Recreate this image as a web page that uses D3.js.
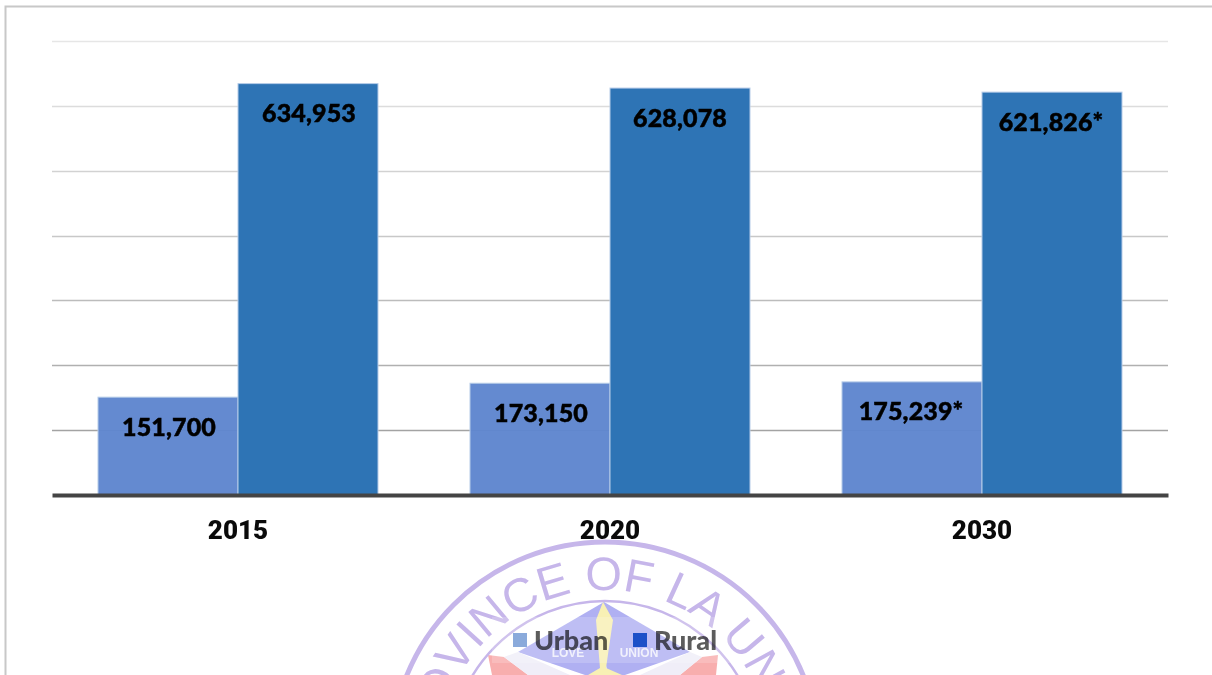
<!DOCTYPE html>
<html><head><meta charset="utf-8">
<script src="https://cdn.jsdelivr.net/npm/d3@7/dist/d3.min.js"></script>
<style>html,body{margin:0;padding:0;background:#fff;overflow:hidden}svg{display:block}</style>
</head><body><svg id="c" width="1212" height="675"></svg>
<script>
const categories = ["2015","2020","2030"];
const seriesNames = ["Urban","Rural"];
const urban = [151700,173150,175239];
const rural = [634953,628078,621826];
const labelsUrban = ["151,700","173,150","175,239*"];
const labelsRural = ["634,953","628,078","621,826*"];
const gridTicks = [100000,200000,300000,400000,500000,600000,700000];
const gridColors = ["#a3a3a3","#b0b0b0","#bcbcbc","#c8c8c8","#d2d2d2","#dcdcdc","#e6e6e6"];
const barColors = {Urban:"#5f86ce",Rural:"#2e74b5"};
const legendColors = {Urban:"#8aaadb",Rural:"#1c50c8"};
const sealWords = "PROVINCE OF LA UNION";

const svg = d3.select("#c");
const x = d3.scaleBand().domain(categories).range([52,1168]).paddingInner(92/372).paddingOuter(46/372);
const xs = d3.scaleBand().domain(seriesNames).range([0,x.bandwidth()]);
const y = d3.scaleLinear().domain([0,700000]).range([495.6,41.4]);
const font = "'Lato','Noto Sans',sans-serif";

svg.append("rect").attr("x",5.5).attr("y",6.5).attr("width",1300).attr("height",800)
  .attr("fill","#fff").attr("stroke","#c8c8c8").attr("stroke-width",2);

// watermark seal, under the labels
const cx=605, cy=756, seal=svg.append("g");
const star=[
 {p:"M604,602 L518,652 L585,675 L600,675 L603,660Z",f:"#b0b0f2"},
 {p:"M604,602 L690,652 L625,675 L608,675 L605,660Z",f:"#b0b0f2"},
 {p:"M603,602 L596,620 L600,668 L588,675 L622,675 L606,668 L613,620Z",f:"#f8f0b4"},
 {p:"M488,655 L504,657 L528,675 L492,675Z",f:"#f8aeae"},
 {p:"M718,655 L702,657 L680,675 L716,675Z",f:"#f8aeae"},
 {p:"M504,657 L518,652 L570,675 L528,675Z",f:"#f0eef8"},
 {p:"M702,657 L690,652 L640,675 L680,675Z",f:"#f0eef8"}
];
seal.selectAll("path.s").data(star).join("path").attr("class","s").attr("d",d=>d.p).attr("fill",d=>d.f);
seal.append("circle").attr("cx",cx).attr("cy",cy).attr("r",214).attr("fill","none").attr("stroke","#c6b6ea").attr("stroke-width",5);
seal.append("circle").attr("cx",cx).attr("cy",cy).attr("r",155).attr("fill","none").attr("stroke","#c6b6ea").attr("stroke-width",2.5);
const rr=166;
svg.append("defs").append("path").attr("id","arc")
  .attr("d",`M${cx-rr},${cy} A${rr},${rr} 0 0 1 ${cx+rr},${cy}`);
seal.append("text").attr("font-family","'Liberation Sans',sans-serif").attr("font-size",47)
  .attr("fill","#c6b6ea")
  .append("textPath").attr("href","#arc").attr("startOffset","50%").attr("text-anchor","middle").text(sealWords);
seal.selectAll("text.w").data([["LOVE",568],["UNION",639]]).join("text").attr("class","w")
  .attr("x",d=>d[1]).attr("y",657).attr("text-anchor","middle").attr("fill","#eeeefc")
  .attr("font-family","'Liberation Sans',sans-serif").attr("font-weight",700).attr("font-size",12).text(d=>d[0]);

// chart
svg.append("g").selectAll("line").data(gridTicks).join("line")
  .attr("x1",52).attr("x2",1168).attr("y1",d=>Math.floor(y(d))+.5).attr("y2",d=>Math.floor(y(d))+.5)
  .attr("stroke",(d,i)=>gridColors[i]).attr("stroke-width",1.3);

const groups = svg.append("g").selectAll("g").data(categories).join("g")
  .attr("transform",d=>`translate(${x(d)},0)`);
const bar = (name,vals,op)=>groups.append("rect")
  .attr("x",xs(name)).attr("width",xs.bandwidth())
  .attr("y",(d,i)=>y(vals[i])).attr("height",(d,i)=>y(0)-y(vals[i]))
  .attr("fill",barColors[name]).attr("fill-opacity",op)
  .attr("stroke","#b5cbe8").attr("stroke-width",1);
bar("Urban",urban,.97); bar("Rural",rural,1);

const lab = (name,texts,offs)=>groups.append("text")
  .attr("x",(d,i)=>xs(name)+xs.bandwidth()/2+offs[i])
  .attr("y",(d,i)=>y(name==="Urban"?urban[i]:rural[i])+38.5)
  .attr("text-anchor","middle").attr("font-family",font).attr("font-weight",900)
  .attr("font-size",25).attr("fill","#000").attr("stroke","#000").attr("stroke-width",.5)
  .attr("letter-spacing",.15).text((d,i)=>texts[i]);
lab("Urban",labelsUrban,[1,1,-1]); lab("Rural",labelsRural,[1,0,-1]);

svg.append("g").attr("transform","translate(0,495)")
  .call(d3.axisBottom(x).tickSize(0).tickPadding(26))
  .call(g=>g.select(".domain").attr("stroke","#444").attr("stroke-width",4))
  .call(g=>g.selectAll("text").attr("font-family","Roboto,sans-serif").attr("font-weight",900)
     .attr("font-size",26).attr("fill","#0a0a0a"));

// legend
const lx=d3.scaleOrdinal().domain(seriesNames).range([513,633]);
svg.append("rect").attr("x",492).attr("y",617).attr("width",238).attr("height",46).attr("fill","#fff").attr("fill-opacity",.18);
const lg=svg.append("g").selectAll("g").data(seriesNames).join("g").attr("transform",d=>`translate(${lx(d)},633)`);
lg.append("rect").attr("width",14).attr("height",14).attr("fill",d=>legendColors[d]);
lg.append("text").attr("x",21).attr("y",16.5).attr("font-family",font).attr("font-weight",900)
  .attr("font-size",27).attr("fill","#5c5c5c").style("mix-blend-mode","multiply").text(d=>d);
</script></body></html>
